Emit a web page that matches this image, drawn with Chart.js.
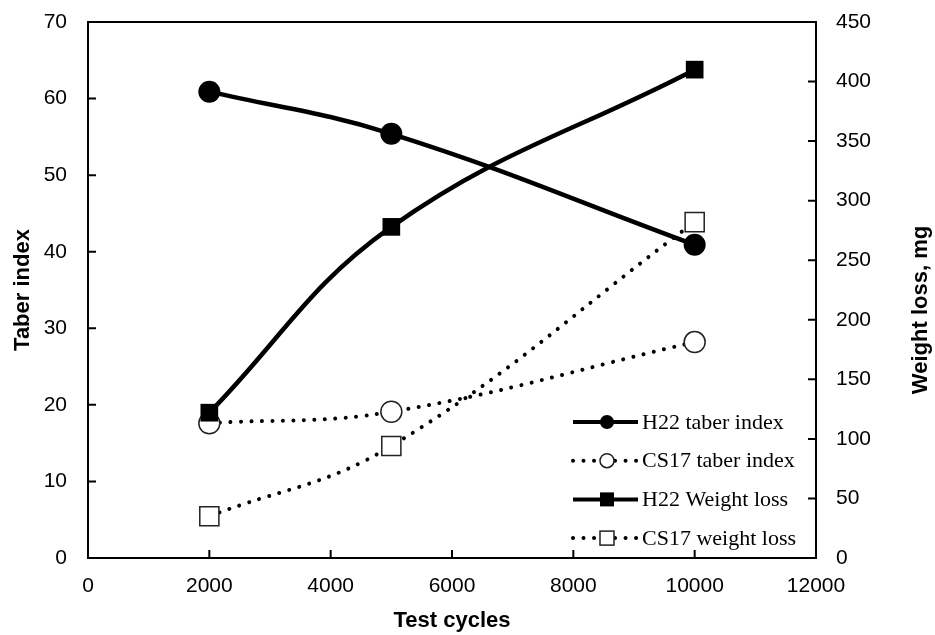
<!DOCTYPE html>
<html><head><meta charset="utf-8">
<script src="https://cdn.jsdelivr.net/npm/chart.js@4/dist/chart.umd.min.js"></script>
<style>html,body{margin:0;padding:0;background:#fff;} canvas{display:block;}</style>
</head><body>
<canvas id="c" width="935" height="635"></canvas>
<script>
// ---- data ----
const cycles = [2000, 5000, 10000];
const h22Taber = [60.9, 55.4, 40.9];
const cs17Taber = [17.6, 19.1, 28.2];
const h22Weight = [122, 278, 410];
const cs17Weight = [35, 94, 282];
const seriesNames = ['H22 taber index', 'CS17 taber index', 'H22 Weight loss', 'CS17 weight loss'];
const xTitle = 'Test cycles';
const yLeftTitle = 'Taber index';
const yRightTitle = 'Weight loss, mg';

const SANS = "'Liberation Sans', Arial, sans-serif";
const SERIF = "'Liberation Serif', 'Times New Roman', serif";
const DOT = [0.01, 10.5];

function pts(vals) { return cycles.map((c, i) => ({x: c, y: vals[i]})); }

const datasets = [
  {label: seriesNames[2], data: pts(h22Weight), yAxisID: 'y2', borderColor: '#000', borderWidth: 4.5,
   pointStyle: 'rect', pointRadius: 12.5, pointBackgroundColor: '#000', pointBorderColor: '#000', pointBorderWidth: 0,
   tension: 0.4, order: 1, mk: 'rectFill'},
  {label: seriesNames[0], data: pts(h22Taber), yAxisID: 'y', borderColor: '#000', borderWidth: 4.5,
   pointStyle: 'circle', pointRadius: 11, pointBackgroundColor: '#000', pointBorderColor: '#000', pointBorderWidth: 0,
   tension: 0.4, order: 2, mk: 'circleFill'},
  {label: seriesNames[3], data: pts(cs17Weight), yAxisID: 'y2', borderColor: '#000', borderWidth: 4,
   borderDash: DOT, borderCapStyle: 'round',
   pointStyle: 'rect', pointRadius: 13.5, pointBackgroundColor: '#fff', pointBorderColor: '#222', pointBorderWidth: 1.5,
   tension: 0.4, order: 3, mk: 'rectOpen'},
  {label: seriesNames[1], data: pts(cs17Taber), yAxisID: 'y', borderColor: '#000', borderWidth: 4,
   borderDash: DOT, borderCapStyle: 'round',
   pointStyle: 'circle', pointRadius: 10.5, pointBackgroundColor: '#fff', pointBorderColor: '#222', pointBorderWidth: 1.5,
   tension: 0.4, order: 4, mk: 'circleOpen'}
];

const legendOrder = [seriesNames[0], seriesNames[1], seriesNames[2], seriesNames[3]];

const framePlugin = {
  id: 'frame',
  afterDraw(chart) {
    const ctx = chart.ctx, a = chart.chartArea;
    ctx.save();
    ctx.strokeStyle = '#000';
    ctx.lineWidth = 2;
    ctx.strokeRect(a.left, a.top, a.right - a.left, a.bottom - a.top);
    const tl = 8;
    ctx.beginPath();
    chart.scales.x.ticks.forEach(t => {
      const p = chart.scales.x.getPixelForValue(t.value);
      ctx.moveTo(p, a.bottom); ctx.lineTo(p, a.bottom - tl);
    });
    chart.scales.y.ticks.forEach(t => {
      const p = chart.scales.y.getPixelForValue(t.value);
      ctx.moveTo(a.left, p); ctx.lineTo(a.left + tl, p);
    });
    chart.scales.y2.ticks.forEach(t => {
      const p = chart.scales.y2.getPixelForValue(t.value);
      ctx.moveTo(a.right, p); ctx.lineTo(a.right - tl, p);
    });
    ctx.stroke();
    // right axis title, reading bottom to top
    ctx.translate(chart.width - 14, (a.top + a.bottom) / 2 + 20);
    ctx.rotate(-Math.PI / 2);
    ctx.font = "bold 22px " + SANS;
    ctx.fillStyle = '#000';
    ctx.textAlign = 'center';
    ctx.textBaseline = 'middle';
    ctx.fillText(yRightTitle, 0, 0);
    ctx.restore();
  }
};

const legendPlugin = {
  id: 'customLegend',
  afterDatasetsDraw(chart) {
    const ctx = chart.ctx, a = chart.chartArea;
    const x0 = a.right - 243, x1 = a.right - 178, xm = a.right - 209, tx = a.right - 174;
    const y0 = a.bottom - 136, dy = 38.7;
    ctx.save();
    legendOrder.forEach((name, i) => {
      const ds = chart.data.datasets.find(d => d.label === name);
      const y = y0 + i * dy;
      ctx.strokeStyle = '#000';
      ctx.lineWidth = 4;
      ctx.lineCap = ds.borderDash ? 'round' : 'butt';
      ctx.setLineDash(ds.borderDash || []);
      ctx.beginPath(); ctx.moveTo(x0, y); ctx.lineTo(x1, y); ctx.stroke();
      ctx.setLineDash([]);
      ctx.lineWidth = 1.5;
      if (ds.mk === 'circleFill' || ds.mk === 'circleOpen') {
        ctx.beginPath(); ctx.arc(xm, y, 7, 0, Math.PI * 2);
        ctx.fillStyle = ds.mk === 'circleFill' ? '#000' : '#fff';
        ctx.fill();
        if (ds.mk === 'circleOpen') { ctx.strokeStyle = '#222'; ctx.stroke(); }
      } else {
        ctx.fillStyle = ds.mk === 'rectFill' ? '#000' : '#fff';
        ctx.fillRect(xm - 7, y - 7, 14, 14);
        if (ds.mk === 'rectOpen') { ctx.strokeStyle = '#222'; ctx.strokeRect(xm - 7, y - 7, 14, 14); }
      }
      ctx.fillStyle = '#000';
      ctx.font = "22px " + SERIF;
      ctx.textAlign = 'left';
      ctx.textBaseline = 'middle';
      ctx.fillText(name, tx, y + 1);
    });
    ctx.restore();
  }
};

function fitV(w) {
  return function (s) { s.width = w; s.paddingTop = 0; s.paddingBottom = 0; };
}

new Chart(document.getElementById('c'), {
  type: 'line',
  data: {datasets},
  options: {
    responsive: false,
    animation: false,
    devicePixelRatio: 1,
    layout: {padding: {top: 22, left: 0, right: 0, bottom: 0}},
    plugins: {legend: {display: false}, tooltip: {enabled: false}},
    scales: {
      x: {
        type: 'linear', min: 0, max: 12000,
        grid: {display: false, drawTicks: false},
        border: {display: false},
        ticks: {stepSize: 2000, padding: 16, color: '#000', font: {family: SANS, size: 21}, maxRotation: 0,
                callback: v => String(v)},
        title: {display: true, text: xTitle, color: '#000', font: {family: SANS, size: 22, weight: 'bold'}, padding: {top: 0, bottom: 1}},
        afterFit(s) { s.height = 77; s.paddingLeft = 0; s.paddingRight = 0; }
      },
      y: {
        type: 'linear', position: 'left', min: 0, max: 70,
        grid: {display: false, drawTicks: false},
        border: {display: false},
        ticks: {stepSize: 10, padding: 21, color: '#000', font: {family: SANS, size: 21}},
        title: {display: true, text: yLeftTitle, color: '#000', font: {family: SANS, size: 22, weight: 'bold'}, padding: {top: 10, bottom: 0}},
        afterFit: fitV(88)
      },
      y2: {
        type: 'linear', position: 'right', min: 0, max: 450,
        grid: {display: false, drawTicks: false},
        border: {display: false},
        ticks: {stepSize: 50, padding: 20, color: '#000', font: {family: SANS, size: 21}},
        afterFit: fitV(119)
      }
    }
  },
  plugins: [framePlugin, legendPlugin]
});
</script>
</body></html>
